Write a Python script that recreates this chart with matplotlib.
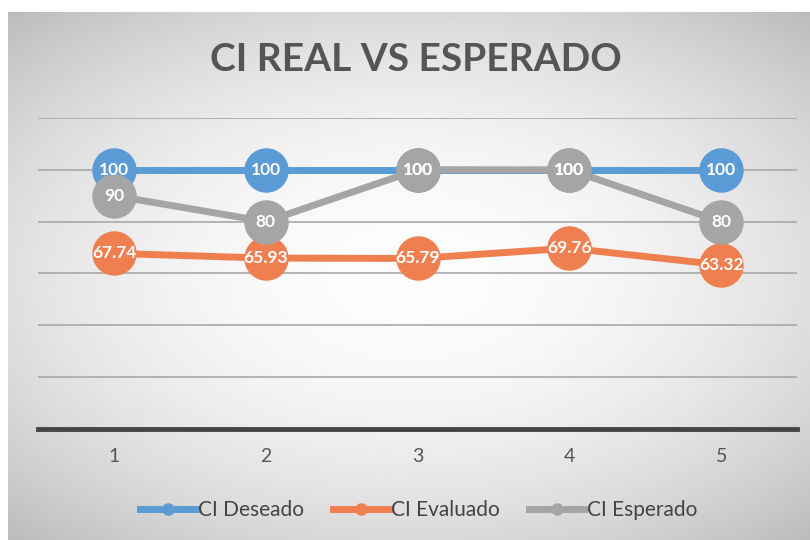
import numpy as np
import matplotlib

matplotlib.use("Agg")
import matplotlib.pyplot as plt

plt.rcParams["font.family"] = ["Lato", "DejaVu Sans"]

categories = [1, 2, 3, 4, 5]
ci_deseado = [100, 100, 100, 100, 100]
ci_evaluado = [67.74, 65.93, 65.79, 69.76, 63.32]
ci_esperado = [90, 80, 100, 100, 80]

SERIES = [
    ("CI Deseado", ci_deseado, "#5b9bd5"),
    ("CI Evaluado", ci_evaluado, "#f07f50"),
    ("CI Esperado", ci_esperado, "#a5a5a5"),
]

fig = plt.figure(figsize=(8.1, 5.4), dpi=100, facecolor="white")

# photographed chart: soft grey vignette behind everything
bg = fig.add_axes([0.01, 0.0, 0.99, 0.978])
yy, xx = np.mgrid[-1:1:200j, -1:1:300j]
r = np.sqrt((xx / 1.1) ** 2 + (yy / 1.0) ** 2)
bg.imshow(np.clip(0.99 - 0.14 * r ** 2, 0, 1), cmap="gray", vmin=0, vmax=1,
          aspect="auto", extent=[0, 1, 0, 1])
bg.set_axis_off()

ax = fig.add_axes([0.047, 0.2056, 0.937, 0.576])
ax.set_facecolor("none")

for name, vals, color in SERIES:
    ax.plot(categories, vals, color=color, lw=5, marker="o", ms=31,
            mec=color, mfc=color, label=name, solid_capstyle="round",
            clip_on=False)
    for x, v in zip(categories, vals):
        ax.text(x, v, f"{v:g}", color="white", fontsize=12.5, fontweight="bold",
                ha="center", va="center")

ax.set_xlim(0.5, 5.5)
ax.set_ylim(0, 120)
ax.set_yticks(range(0, 121, 20))
ax.yaxis.grid(True, color="#a8a8a8", lw=1.2)
ax.set_axisbelow(True)
ax.tick_params(axis="y", left=False, labelleft=False)
ax.tick_params(axis="x", length=0, pad=14, labelsize=14, labelcolor="#555555")
ax.set_xticks(categories)
for s in ["top", "right", "left"]:
    ax.spines[s].set_visible(False)
ax.spines["bottom"].set_color("#454545")
ax.spines["bottom"].set_linewidth(3.5)

fig.text(0.514, 0.889, "CI REAL VS ESPERADO", ha="center", va="center",
         fontsize=28, fontweight="bold", color="#555555")

handles = [plt.Line2D([], [], color=c, lw=5, marker="o", ms=8) for _, _, c in SERIES]
fig.legend(handles, [n for n, _, _ in SERIES], loc="center",
           bbox_to_anchor=(0.517, 0.055), ncol=3, frameon=False, fontsize=15,
           handlelength=2.65, handletextpad=0.12, columnspacing=1.4,
           labelcolor="#444444")

fig.savefig("out.png", dpi=100)
